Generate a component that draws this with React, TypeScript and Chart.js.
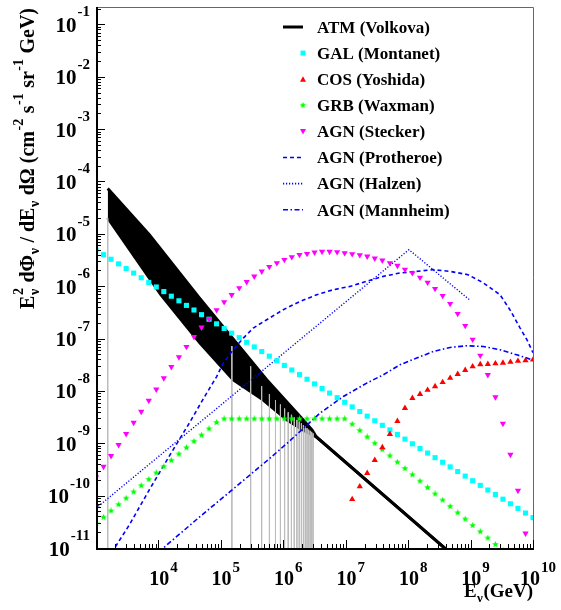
import React, { useEffect, useRef } from 'react';
import { Chart, registerables } from 'chart.js';

Chart.register(...registerables);

// ---------------- data ----------------
// common energy grid (GeV) of the marker series
const energies = [
  1.00e3, 1.32e3, 1.74e3, 2.30e3, 3.04e3, 4.01e3, 5.30e3, 7.00e3, 9.24e3,
  1.22e4, 1.61e4, 2.13e4, 2.81e4, 3.71e4, 4.90e4, 6.47e4, 8.54e4,
  1.13e5, 1.49e5, 1.97e5, 2.59e5, 3.43e5, 4.52e5, 5.97e5, 7.89e5,
  1.04e6, 1.37e6, 1.82e6, 2.40e6, 3.17e6, 4.18e6, 5.52e6, 7.29e6, 9.62e6,
  1.27e7, 1.68e7, 2.21e7, 2.92e7, 3.86e7, 5.10e7, 6.73e7, 8.89e7,
  1.17e8, 1.55e8, 2.05e8, 2.70e8, 3.57e8, 4.71e8, 6.22e8, 8.21e8,
  1.08e9, 1.43e9, 1.89e9, 2.50e9, 3.30e9, 4.35e9, 5.74e9, 7.59e9,
  1.00e10,
];

const galFlux = [
  4.90e-6, 4.00e-6, 3.27e-6, 2.67e-6, 2.18e-6, 1.78e-6, 1.45e-6, 1.18e-6, 9.66e-7,
  7.89e-7, 6.44e-7, 5.26e-7, 4.30e-7, 3.51e-7, 2.86e-7, 2.34e-7, 1.91e-7,
  1.56e-7, 1.27e-7, 1.04e-7, 8.47e-8, 6.92e-8, 5.65e-8, 4.61e-8, 3.77e-8,
  3.07e-8, 2.51e-8, 2.05e-8, 1.67e-8, 1.36e-8, 1.11e-8, 9.10e-9, 7.43e-9, 6.07e-9,
  4.95e-9, 4.04e-9, 3.30e-9, 2.69e-9, 2.20e-9, 1.80e-9, 1.47e-9, 1.20e-9,
  9.77e-10, 7.97e-10, 6.51e-10, 5.31e-10, 4.34e-10, 3.54e-10, 2.89e-10, 2.36e-10,
  1.93e-10, 1.57e-10, 1.28e-10, 1.05e-10, 8.56e-11, 7.00e-11, 5.71e-11, 4.66e-11,
  3.80e-11,
];

const cosFlux = [
  null, null, null, null, null, null, null, null, null,
  null, null, null, null, null, null, null, null,
  null, null, null, null, null, null, null, null,
  null, null, null, null, null, null, null, null, null,
  8.53e-11, 1.49e-10, 2.68e-10, 4.75e-10, 8.36e-10, 1.49e-9, 2.65e-9, 4.69e-9,
  7.28e-9, 8.69e-9, 1.04e-8, 1.22e-8, 1.46e-8, 1.76e-8, 2.09e-8, 2.50e-8,
  2.93e-8, 3.20e-8, 3.25e-8, 3.34e-8, 3.44e-8, 3.56e-8, 3.72e-8, 3.81e-8,
  3.94e-8,
];

const grbFlux = [
  2.93e-11, 3.87e-11, 5.11e-11, 6.75e-11, 8.91e-11, 1.18e-10, 1.55e-10, 2.05e-10, 2.71e-10,
  3.58e-10, 4.72e-10, 6.23e-10, 8.23e-10, 1.09e-9, 1.43e-9, 1.89e-9, 2.50e-9,
  2.93e-9, 2.93e-9, 2.93e-9, 2.93e-9, 2.93e-9, 2.93e-9, 2.93e-9, 2.93e-9,
  2.93e-9, 2.93e-9, 2.93e-9, 2.93e-9, 2.93e-9, 2.93e-9, 2.93e-9, 2.93e-9, 2.93e-9,
  2.31e-9, 1.75e-9, 1.32e-9, 1.00e-9, 7.59e-10, 5.75e-10, 4.36e-10, 3.30e-10,
  2.50e-10, 1.89e-10, 1.43e-10, 1.08e-10, 8.22e-11, 6.22e-11, 4.71e-11, 3.57e-11,
  2.70e-11, 2.05e-11, 1.55e-11, 1.17e-11, 8.89e-12, null, null, null,
  null,
];

const steckerFlux = [
  2.25e-10, 3.58e-10, 5.74e-10, 9.31e-10, 1.51e-9, 2.49e-9, 4.04e-9, 6.55e-9, 1.07e-8,
  1.76e-8, 2.89e-8, 4.43e-8, 6.97e-8, 1.08e-7, 1.64e-7, 2.37e-7, 3.52e-7,
  4.99e-7, 6.82e-7, 9.25e-7, 1.21e-6, 1.54e-6, 1.92e-6, 2.36e-6, 2.78e-6,
  3.21e-6, 3.61e-6, 4.00e-6, 4.18e-6, 4.43e-6, 4.57e-6, 4.57e-6, 4.51e-6, 4.32e-6,
  4.13e-6, 3.95e-6, 3.72e-6, 3.40e-6, 3.11e-6, 2.78e-6, 2.47e-6, 2.09e-6,
  1.79e-6, 1.47e-6, 1.18e-6, 8.95e-7, 6.58e-7, 4.62e-7, 2.98e-7, 1.76e-7,
  9.61e-8, 4.75e-8, 2.03e-8, 7.60e-9, 2.38e-9, 6.08e-10, 1.25e-10, 1.91e-11,
  null,
];

const protheroeE = [
  1.78e3, 3.41e3, 7.14e3, 1.59e4, 3.12e4, 5.12e4, 8.57e4, 1.09e5, 1.58e5, 2.29e5,
  3.31e5, 5.42e5, 1.00e6, 1.85e6, 3.43e6, 6.32e6, 1.17e7, 2.17e7, 4.00e7, 7.40e7,
  1.37e8, 2.53e8, 4.68e8, 9.10e8, 1.58e9, 2.96e9, 4.28e9, 6.19e9, 8.02e9, 1.00e10,
];
const protheroeFlux = [
  8.13e-12, 2.75e-11, 1.29e-10, 6.47e-10, 2.42e-9, 6.76e-9, 1.88e-8, 3.40e-8, 6.11e-8, 1.02e-7,
  1.59e-7, 2.29e-7, 3.56e-7, 5.12e-7, 6.87e-7, 8.57e-7, 9.91e-7, 1.24e-6, 1.54e-6, 1.79e-6,
  1.92e-6, 2.07e-6, 1.92e-6, 1.66e-6, 1.17e-6, 6.87e-7, 3.54e-7, 1.60e-7, 9.44e-8, 5.35e-8,
];

const halzenE = [1.00e3, 1.03e8, 1.00e9];
const halzenFlux = [5.75e-11, 4.99e-6, 5.28e-7];

const mannheimE = [
  1.00e4, 4.63e4, 1.40e5, 6.12e5, 1.28e6, 3.87e6, 9.14e6, 2.17e7, 4.00e7,
  7.40e7, 1.37e8, 2.53e8, 4.68e8, 8.67e8, 1.60e9, 2.96e9, 5.48e9, 1.00e10,
];
const mannheimFlux = [
  8.32e-12, 3.98e-11, 1.19e-10, 5.19e-10, 1.12e-9, 3.77e-9, 7.82e-9, 1.41e-8, 2.03e-8,
  3.16e-8, 4.24e-8, 5.66e-8, 6.76e-8, 7.28e-8, 7.06e-8, 6.11e-8, 4.90e-8, 3.89e-8,
];

const atmUpperE = [1.54e3, 7.14e3, 4.52e4, 5.42e5, 2.07e6, 2.88e6, 3.39e6, 5.01e8];
const atmUpperFlux = [7.31e-5, 9.66e-6, 5.94e-7, 1.63e-8, 2.80e-9, 1.80e-9, 1.32e-9, 7.59e-12];
const atmLowerE = [1.54e3, 1.10e4, 4.63e4, 1.58e5, 4.73e5, 1.14e6, 2.07e6, 3.39e6, 5.01e8];
const atmLowerFlux = [2.01e-5, 6.87e-7, 8.20e-8, 1.63e-8, 6.76e-9, 2.80e-9, 1.80e-9, 1.32e-9, 7.59e-12];

// vertical error bars of the ATM band (they run down past the axis)
const errorBarE = [
  1.54e3, 1.5e5, 3.0e5, 4.5e5, 6.0e5, 7.5e5, 9.0e5, 1.05e6, 1.2e6, 1.35e6, 1.5e6,
  1.65e6, 1.8e6, 1.95e6, 2.1e6, 2.25e6, 2.4e6, 2.55e6, 2.7e6, 2.85e6, 3.0e6,
];
const errorBarTop = [
  2.01e-5, 7.2e-8, 2.95e-8, 1.23e-8, 8.7e-9, 6.7e-9, 5.5e-9, 4.6e-9, 3.9e-9, 3.5e-9, 3.1e-9,
  2.8e-9, 2.6e-9, 2.4e-9, 2.22e-9, 2.08e-9, 1.94e-9, 1.82e-9, 1.73e-9, 1.65e-9, 1.54e-9,
];
const errorBarBottom = 1e-12;

const legendLabels = [
  'ATM (Volkova)', 'GAL (Montanet)', 'COS (Yoshida)', 'GRB (Waxman)',
  'AGN (Stecker)', 'AGN (Protheroe)', 'AGN (Halzen)', 'AGN (Mannheim)',
];

const xTickExponents = [4, 5, 6, 7, 8, 9, 10];
const yTickExponents = [-1, -2, -3, -4, -5, -6, -7, -8, -9, -10, -11];

const X_MIN = 1e3;
const X_MAX = 1e10;
const Y_MIN = 1e-11;
const Y_MAX = 0.215;

// ---------------- styling ----------------
const SERIF = '"Liberation Serif", "Times New Roman", serif';
const CYAN = '#00ffff';
const RED = '#ff0000';
const GREEN = '#00ff00';
const MAGENTA = '#ff00ff';
const BLUE = '#0000ff';
const GRAY = '#bcbcbc';

const DASH_PROTHEROE = [4, 3];
const DASH_HALZEN = [1.2, 1.8];
const DASH_MANNHEIM = [5, 2.5, 1.5, 2.5];

function makeStar(color: string, size: number): HTMLCanvasElement {
  const c = document.createElement('canvas');
  c.width = size;
  c.height = size;
  const g = c.getContext('2d') as CanvasRenderingContext2D;
  const cx = size / 2;
  const cy = size / 2;
  const R = size / 2;
  const r = R * 0.45;
  g.beginPath();
  for (let i = 0; i < 10; i++) {
    const a = -Math.PI / 2 + (i * Math.PI) / 5;
    const rad = i % 2 === 0 ? R : r;
    g.lineTo(cx + rad * Math.cos(a), cy + rad * Math.sin(a));
  }
  g.closePath();
  g.fillStyle = color;
  g.fill();
  return c;
}

type Run = { t: string; k: 'n' | 'sup' | 'sub' | 'subsup'; t2?: string };

function richWidth(ctx: CanvasRenderingContext2D, runs: Run[], mainFont: string, smallFont: string) {
  let w = 0;
  for (const r of runs) {
    if (r.k === 'n') {
      ctx.font = mainFont;
      w += ctx.measureText(r.t).width;
    } else if (r.k === 'subsup') {
      ctx.font = smallFont;
      w += Math.max(ctx.measureText(r.t).width, ctx.measureText(r.t2 || '').width) + 1;
    } else {
      ctx.font = smallFont;
      w += ctx.measureText(r.t).width + 1;
    }
  }
  return w;
}

function drawRich(
  ctx: CanvasRenderingContext2D, runs: Run[], x: number, y: number,
  mainFont: string, smallFont: string, raise: number, drop: number,
) {
  let u = x;
  ctx.textAlign = 'left';
  ctx.textBaseline = 'alphabetic';
  for (const r of runs) {
    if (r.k === 'n') {
      ctx.font = mainFont;
      ctx.fillText(r.t, u, y);
      u += ctx.measureText(r.t).width;
    } else if (r.k === 'subsup') {
      ctx.font = smallFont;
      ctx.fillText(r.t, u + 0.5, y + drop);
      ctx.fillText(r.t2 || '', u + 0.5, y - raise);
      u += Math.max(ctx.measureText(r.t).width, ctx.measureText(r.t2 || '').width) + 1;
    } else {
      ctx.font = smallFont;
      ctx.fillText(r.t, u + 0.5, r.k === 'sup' ? y - raise : y + drop);
      u += ctx.measureText(r.t).width + 1;
    }
  }
}

const yTitleRuns: Run[] = [
  { t: 'E', k: 'n' },
  { t: 'ν', k: 'subsup', t2: '2' },
  { t: ' dΦ', k: 'n' },
  { t: 'ν', k: 'sub' },
  { t: ' / dE', k: 'n' },
  { t: 'ν', k: 'sub' },
  { t: ' dΩ (cm', k: 'n' },
  { t: '-2', k: 'sup' },
  { t: ' s', k: 'n' },
  { t: '-1', k: 'sup' },
  { t: ' sr', k: 'n' },
  { t: '-1', k: 'sup' },
  { t: ' GeV)', k: 'n' },
];

const xTitleRuns: Run[] = [
  { t: 'E', k: 'n' },
  { t: 'ν', k: 'sub' },
  { t: '(GeV)', k: 'n' },
];

const rootStylePlugin = {
  id: 'rootStyle',
  afterDraw(chart: any) {
    const ctx: CanvasRenderingContext2D = chart.ctx;
    const xs = chart.scales.x;
    const ys = chart.scales.y;
    const { left: L, right: R, top: T, bottom: B } = chart.chartArea;
    ctx.save();

    // frame
    ctx.strokeStyle = '#666';
    ctx.lineWidth = 1;
    ctx.beginPath();
    ctx.moveTo(L, T + 0.5);
    ctx.lineTo(R + 0.5, T + 0.5);
    ctx.lineTo(R + 0.5, B);
    ctx.stroke();
    ctx.strokeStyle = '#000';
    ctx.lineWidth = 2;
    ctx.beginPath();
    ctx.moveTo(L + 1, T);
    ctx.lineTo(L + 1, B + 1);
    ctx.lineTo(R + 1, B + 1);
    ctx.stroke();

    // ticks (inside the frame)
    ctx.lineWidth = 1;
    ctx.strokeStyle = '#000';
    ctx.beginPath();
    for (let n = 3; n <= 10; n++) {
      for (let k = 1; k <= 9; k++) {
        const v = k * Math.pow(10, n);
        if (v < X_MIN * 0.999 || v > X_MAX * 1.001) continue;
        const px = Math.round(xs.getPixelForValue(v)) + 0.5;
        const len = k === 1 ? 8 : 4;
        ctx.moveTo(px, B);
        ctx.lineTo(px, B - len);
      }
    }
    for (let n = -11; n <= 0; n++) {
      for (let k = 1; k <= 9; k++) {
        const v = k * Math.pow(10, n);
        if (v < Y_MIN * 0.999 || v > Y_MAX) continue;
        const py = Math.round(ys.getPixelForValue(v)) + 0.5;
        const len = k === 1 ? 8 : 4;
        ctx.moveTo(L + 1, py);
        ctx.lineTo(L + 1 + len, py);
      }
    }
    ctx.stroke();

    // tick labels
    ctx.fillStyle = '#000';
    ctx.textBaseline = 'alphabetic';
    const baseFont = `bold 21px ${SERIF}`;
    const expFont = `bold 15px ${SERIF}`;
    for (const e of yTickExponents) {
      const py = ys.getPixelForValue(Math.pow(10, e));
      ctx.font = expFont;
      const ew = ctx.measureText(String(e)).width;
      ctx.textAlign = 'left';
      ctx.fillText(String(e), 90 - ew, py - 8);
      ctx.font = baseFont;
      ctx.textAlign = 'right';
      ctx.fillText('10', 90 - ew - 1, py + 7.5);
    }
    const xBase = `bold 20px ${SERIF}`;
    const xExp = `bold 15px ${SERIF}`;
    for (const e of xTickExponents) {
      const px = xs.getPixelForValue(Math.pow(10, e));
      ctx.font = xBase;
      const bw = ctx.measureText('10').width;
      ctx.font = xExp;
      const ew = ctx.measureText(String(e)).width;
      const start = px + 5 - (bw + ew + 1) / 2;
      ctx.textAlign = 'left';
      ctx.font = xBase;
      ctx.fillText('10', start, 585);
      ctx.font = xExp;
      ctx.fillText(String(e), start + bw + 1, 572);
    }

    // axis titles
    const tMain = `bold 19px ${SERIF}`;
    const tSmall = `bold 13px ${SERIF}`;
    const xw = richWidth(ctx, xTitleRuns, tMain, tSmall);
    drawRich(ctx, xTitleRuns, R - xw, 597, tMain, tSmall, 9, 5);

    const yMain = `bold 20px ${SERIF}`;
    const ySmall = `bold 14px ${SERIF}`;
    const yw = richWidth(ctx, yTitleRuns, yMain, ySmall);
    ctx.save();
    ctx.translate(34, 8 + yw);
    ctx.rotate(-Math.PI / 2);
    drawRich(ctx, yTitleRuns, 0, 0, yMain, ySmall, 11, 5);
    ctx.restore();

    // legend
    const lx = 317;
    const mx = 303;
    ctx.font = `bold 17px ${SERIF}`;
    ctx.textAlign = 'left';
    legendLabels.forEach((label, i) => {
      const cy = 27 + i * 26.1;
      ctx.fillStyle = '#000';
      ctx.fillText(label, lx, cy + 5.8);
      ctx.save();
      if (i === 0 || i >= 5) {
        ctx.strokeStyle = i === 0 ? '#000' : BLUE;
        ctx.lineWidth = i === 0 ? 3 : 1.6;
        ctx.setLineDash(i === 5 ? DASH_PROTHEROE : i === 6 ? DASH_HALZEN : i === 7 ? DASH_MANNHEIM : []);
        ctx.beginPath();
        ctx.moveTo(283, cy);
        ctx.lineTo(303, cy);
        ctx.stroke();
      } else if (i === 1) {
        ctx.fillStyle = CYAN;
        ctx.fillRect(mx - 2.5, cy - 2.5, 5, 5);
      } else if (i === 2 || i === 4) {
        ctx.fillStyle = i === 2 ? RED : MAGENTA;
        const s = i === 2 ? 1 : -1;
        ctx.beginPath();
        ctx.moveTo(mx, cy - 3 * s);
        ctx.lineTo(mx + 3, cy + 2.5 * s);
        ctx.lineTo(mx - 3, cy + 2.5 * s);
        ctx.closePath();
        ctx.fill();
      } else if (i === 3) {
        const st = makeStar(GREEN, 7);
        ctx.drawImage(st, mx - 3.5, cy - 3.5);
      }
      ctx.restore();
    });

    ctx.restore();
  },
};

function pairs(xv: number[], yv: (number | null)[]) {
  return xv.map((x, i) => ({ x, y: yv[i] }));
}

export default function App() {
  const canvasRef = useRef<HTMLCanvasElement | null>(null);

  useEffect(() => {
    const canvas = canvasRef.current;
    if (!canvas) return;
    const star = makeStar(GREEN, 7);

    const errorData: { x: number; y: number | null }[] = [];
    errorBarE.forEach((e, i) => {
      errorData.push({ x: e, y: errorBarTop[i] });
      errorData.push({ x: e, y: errorBarBottom });
      errorData.push({ x: e, y: null });
    });

    const markerCommon = {
      showLine: false,
      pointBorderWidth: 0,
      borderWidth: 0,
      clip: 0,
    };
    const lineCommon = {
      pointRadius: 0,
      fill: false,
      clip: 0,
      tension: 0,
    };

    const chart = new Chart(canvas, {
      type: 'line',
      data: {
        datasets: [
          {
            label: 'COS (Yoshida)',
            data: pairs(energies, cosFlux),
            pointStyle: 'triangle',
            pointRadius: 3.6,
            pointBackgroundColor: RED,
            borderColor: RED,
            ...markerCommon,
          },
          {
            label: 'GRB (Waxman)',
            data: pairs(energies, grbFlux),
            pointStyle: star,
            pointRadius: 3.5,
            pointBackgroundColor: GREEN,
            borderColor: GREEN,
            ...markerCommon,
          },
          {
            label: 'AGN (Stecker)',
            data: pairs(energies, steckerFlux),
            pointStyle: 'triangle',
            pointRotation: 180,
            pointRadius: 3.6,
            pointBackgroundColor: MAGENTA,
            borderColor: MAGENTA,
            ...markerCommon,
          },
          {
            label: 'GAL (Montanet)',
            data: pairs(energies, galFlux),
            pointStyle: 'rect',
            pointRadius: 3.6,
            pointBackgroundColor: CYAN,
            borderColor: CYAN,
            ...markerCommon,
          },
          {
            label: 'AGN (Protheroe)',
            data: pairs(protheroeE, protheroeFlux),
            borderColor: BLUE,
            borderWidth: 1.6,
            borderDash: DASH_PROTHEROE,
            ...lineCommon,
          },
          {
            label: 'AGN (Halzen)',
            data: pairs(halzenE, halzenFlux),
            borderColor: BLUE,
            borderWidth: 1.4,
            borderDash: DASH_HALZEN,
            ...lineCommon,
          },
          {
            label: 'AGN (Mannheim)',
            data: pairs(mannheimE, mannheimFlux),
            borderColor: BLUE,
            borderWidth: 1.6,
            borderDash: DASH_MANNHEIM,
            ...lineCommon,
          },
          {
            label: 'ATM errors',
            data: errorData,
            borderColor: GRAY,
            borderWidth: 1,
            spanGaps: false,
            ...lineCommon,
          },
          {
            label: 'ATM (Volkova)',
            data: pairs(atmUpperE, atmUpperFlux),
            borderColor: '#000',
            backgroundColor: '#000',
            borderWidth: 3,
            pointRadius: 0,
            fill: '+1',
            clip: 0,
          },
          {
            label: 'ATM lower',
            data: pairs(atmLowerE, atmLowerFlux),
            borderColor: '#000',
            borderWidth: 3,
            ...lineCommon,
          },
        ],
      } as any,
      options: {
        animation: false,
        responsive: false,
        devicePixelRatio: 1,
        events: [],
        layout: { padding: { left: 96, right: 28, top: 7, bottom: 62 } },
        plugins: {
          legend: { display: false },
          tooltip: { enabled: false },
        },
        scales: {
          x: {
            type: 'logarithmic',
            min: X_MIN,
            max: X_MAX,
            grid: { display: false, drawTicks: false },
            border: { display: false },
            ticks: { display: false },
          },
          y: {
            type: 'logarithmic',
            min: Y_MIN,
            max: Y_MAX,
            grid: { display: false, drawTicks: false },
            border: { display: false },
            ticks: { display: false },
          },
        },
      } as any,
      plugins: [rootStylePlugin],
    });

    return () => chart.destroy();
  }, []);

  return (
    <div style={{ position: 'absolute', left: 0, top: 0, width: 561, height: 610, background: '#fff' }}>
      <canvas ref={canvasRef} width={561} height={610} style={{ display: 'block' }} />
    </div>
  );
}
